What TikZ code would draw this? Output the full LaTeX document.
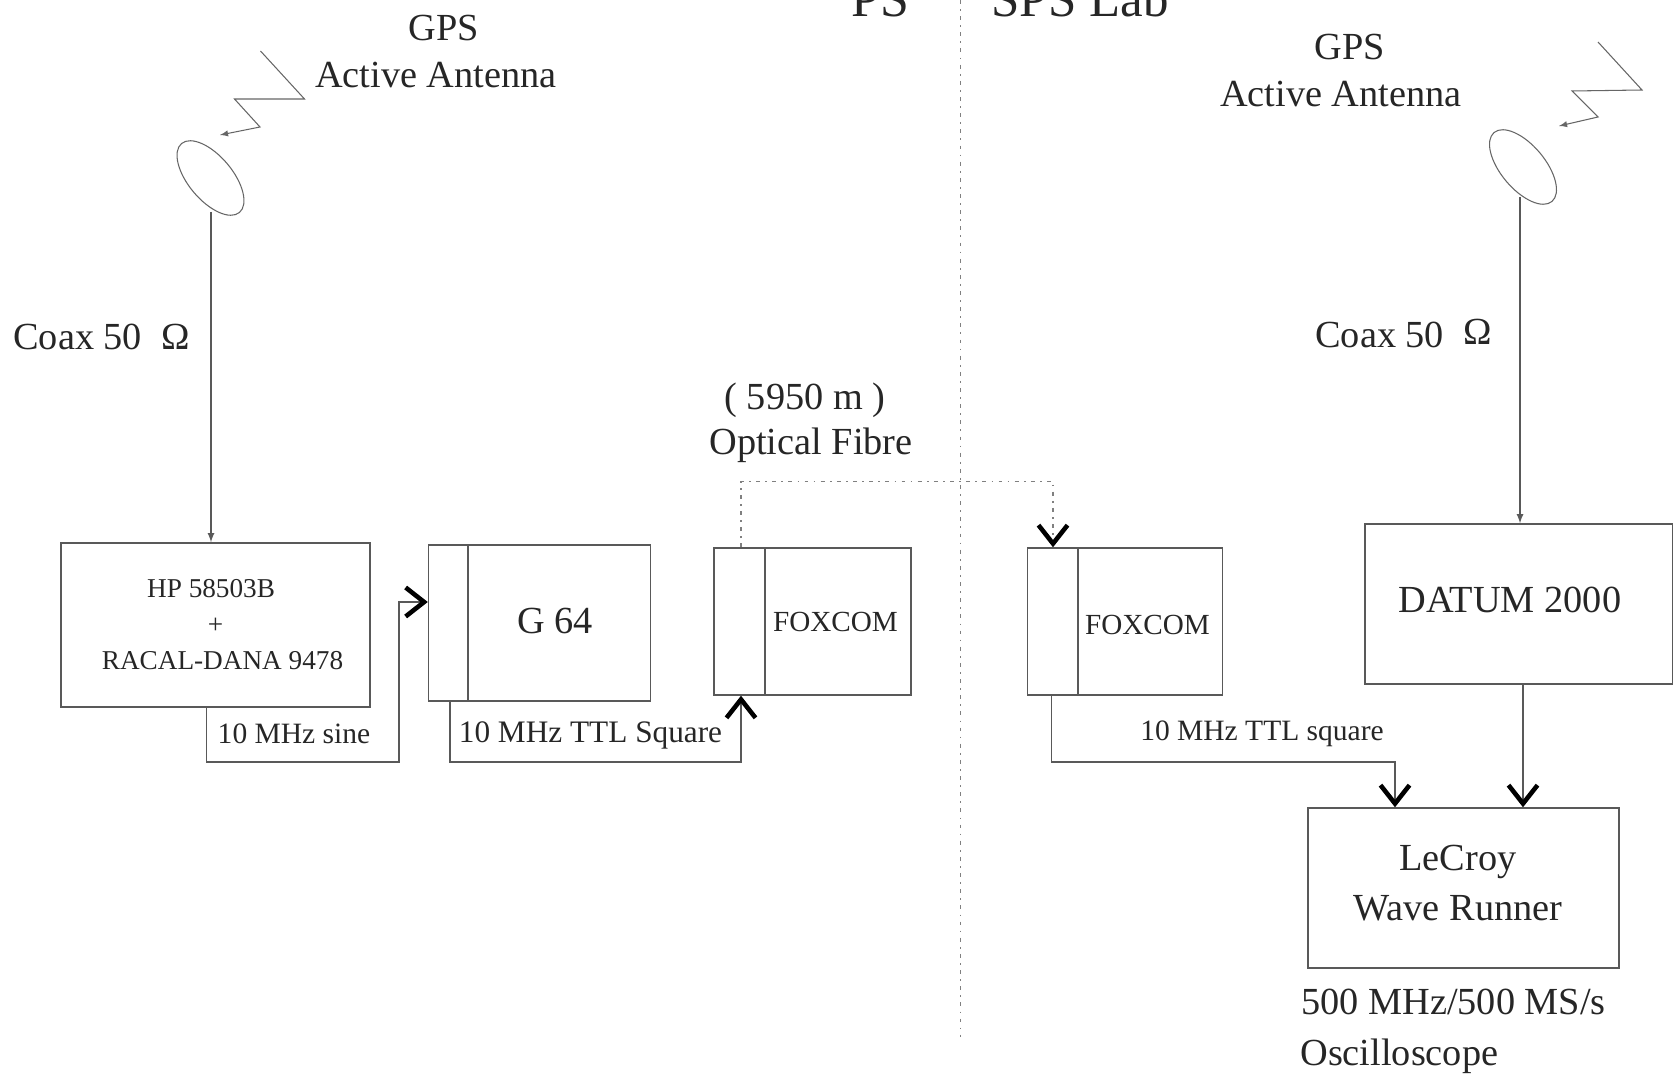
\documentclass[tikz,border=0pt]{standalone}
\usepackage{fontspec}
\setmainfont{Liberation Serif}
\usetikzlibrary{shapes,calc,arrows.meta,positioning}
\tikzset{
    unit/.style={draw=black!65,line width=0.8pt,rectangle,inner sep=0,align=center,text=black!85},
    lab/.style={inner sep=0,anchor=base,text=black!85,font=\fontsize{21.8}{27.3}\selectfont},
    labs/.style={inner sep=0,anchor=base,text=black!85,font=\fontsize{16.8}{20.5}\selectfont},
    sig/.style={draw=black!65,line width=0.8pt},
    fibre/.style={draw=black!50,line width=0.6pt,dash pattern=on 2.2pt off 3pt on 1pt off 3pt},
    bigtip/.tip={Straight Barb[black,length=10.5pt,width=16.5pt,line width=2.6pt]},
    dish/.style={draw=black!60,line width=0.6pt,ellipse,rotate=-50,minimum width=18mm,minimum height=8.8mm,inner sep=0},
    zap/.style={draw=black!60,line width=0.6pt,-latex}
}
\begin{document}
\begin{tikzpicture}[x=0.2mm,y=-0.2mm]
        \useasboundingbox (0,0) rectangle (1673,1077);
        % Site headings and the line between them
        \node[inner sep=0,anchor=base,text=black!85,font=\fontsize{29.5}{30}\selectfont] (ps) at (880,17) {PS};
        \node[inner sep=0,anchor=base,text=black!85,font=\fontsize{29}{30}\selectfont] (sps) at (1080,17) {SPS Lab};
        \coordinate (sepA) at (960.5,0);
        \coordinate (sepB) at (960.5,1037);
        \draw[fibre] (sepA) -- (sepB);
        % Left antenna
        \node[dish] (dishL) at (210.5,178) {};
        \draw[zap] (260.5,51) -- (304.5,99) -- (234.5,99) -- (260,127) -- (220,135);
        \node[lab] (gpsL) at (443.5,41) {GPS};
        \node[lab] (actL) at (436,88) {Active Antenna};
        \node[lab,anchor=base west] (coaxL) at (13,350) {Coax 50\ \ Ω};
        % Right antenna
        \node[dish] (dishR) at (1523,167) {};
        \draw[zap] (1598,42) -- (1642,90) -- (1572,91) -- (1598,117) -- (1559,126);
        \node[lab] (gpsR) at (1350,60) {GPS};
        \node[lab] (actR) at (1341,107) {Active Antenna};
        \node[lab,anchor=base west] (coaxR) at (1315,348) {Coax 50\ \ \raisebox{2pt}{Ω}};
        % Units on the PS side
        \node[unit,minimum width=61.8mm,minimum height=32.8mm,font=\fontsize{15.5}{20.5}\selectfont] (hp) at (215.5,625) {HP 58503B\hspace*{5pt}\\+\hspace*{5pt}\\\hspace*{8pt}RACAL-DANA 9478};
        \node[unit,minimum width=44.4mm,minimum height=31.2mm] (g64) at (539.5,623) {};
        \node[lab] (g64txt) at (555,633) {G 64};
        \draw[sig] (468,0 |- g64.north) -- (468,0 |- g64.south);
        \node[unit,minimum width=39.4mm,minimum height=29.4mm] (foxA) at (812.5,621.5) {};
        \node[labs,font=\fontsize{16.6}{20}\selectfont] (foxAtxt) at (835.5,631) {FOXCOM};
        \draw[sig] (765,0 |- foxA.north) -- (765,0 |- foxA.south);
        % Units on the SPS side
        \node[unit,minimum width=39mm,minimum height=29.4mm] (foxB) at (1125,621.5) {};
        \node[labs,font=\fontsize{16.6}{20}\selectfont] (foxBtxt) at (1147.5,634) {FOXCOM};
        \draw[sig] (1078,0 |- foxB.north) -- (1078,0 |- foxB.south);
        \node[unit,minimum width=61.6mm,minimum height=32mm] (datum) at (1519,604) {};
        \node[lab] (datumtxt) at (1510,612) {DATUM 2000};
        \node[unit,minimum width=62.2mm,minimum height=32mm] (lecroy) at (1463.5,888) {};
        \node[lab] (lecroyA) at (1458,870) {LeCroy};
        \node[lab] (lecroyB) at (1458,920) {Wave Runner};
        \node[lab,anchor=base west] (scopeA) at (1301,1014) {500 MHz/500 MS/s};
        \node[lab,anchor=base west] (scopeB) at (1300,1065) {Oscilloscope};
        % Coax feeds
        \coordinate (feedL) at (211,212);
        \coordinate (feedR) at (1520,197);
        \draw[sig,-latex] (feedL) -- (feedL |- hp.north);
        \draw[sig,-latex] (feedR) -- (feedR |- datum.north);
        % 10 MHz links
        \coordinate (sineA) at (206.6,762);
        \coordinate (sineB) at (399,602);
        \draw[sig,-bigtip] (sineA |- hp.south) -- (sineA) -| (sineB) -- (sineB -| g64.west);
        \node[labs] (sinetxt) at (294,743) {10 MHz sine};
        \coordinate (sqA) at (450,762);
        \coordinate (sqB) at (741,762);
        \draw[sig,-bigtip] (sqA |- g64.south) -- (sqA) -- (sqB) -- (sqB |- foxA.south);
        \node[labs,font=\fontsize{17.8}{20}\selectfont] (sqtxt) at (590.5,742) {10 MHz TTL Square};
        \coordinate (ttlA) at (1051.5,762);
        \coordinate (ttlB) at (1395,762);
        \draw[sig,-bigtip] (ttlA |- foxB.south) -- (ttlA) -- (ttlB) -- (ttlB |- lecroy.north);
        \node[labs] (ttltxt) at (1262,740) {10 MHz TTL square};
        \coordinate (ppsA) at (1523,0);
        \draw[sig,-bigtip] (ppsA |- datum.south) -- (ppsA |- lecroy.north);
        % Optical fibre
        \coordinate (fibA) at (741,481.5);
        \coordinate (fibB) at (1053,481.5);
        \draw[fibre,-bigtip] (fibA |- foxA.north) -- (fibA) -- (fibB) -- (fibB |- foxB.north);
        \node[lab] (lenH) at (805,410) {( 5950 m )};
        \node[lab] (fibH) at (811,455) {Optical Fibre};
\end{tikzpicture}
\end{document}
